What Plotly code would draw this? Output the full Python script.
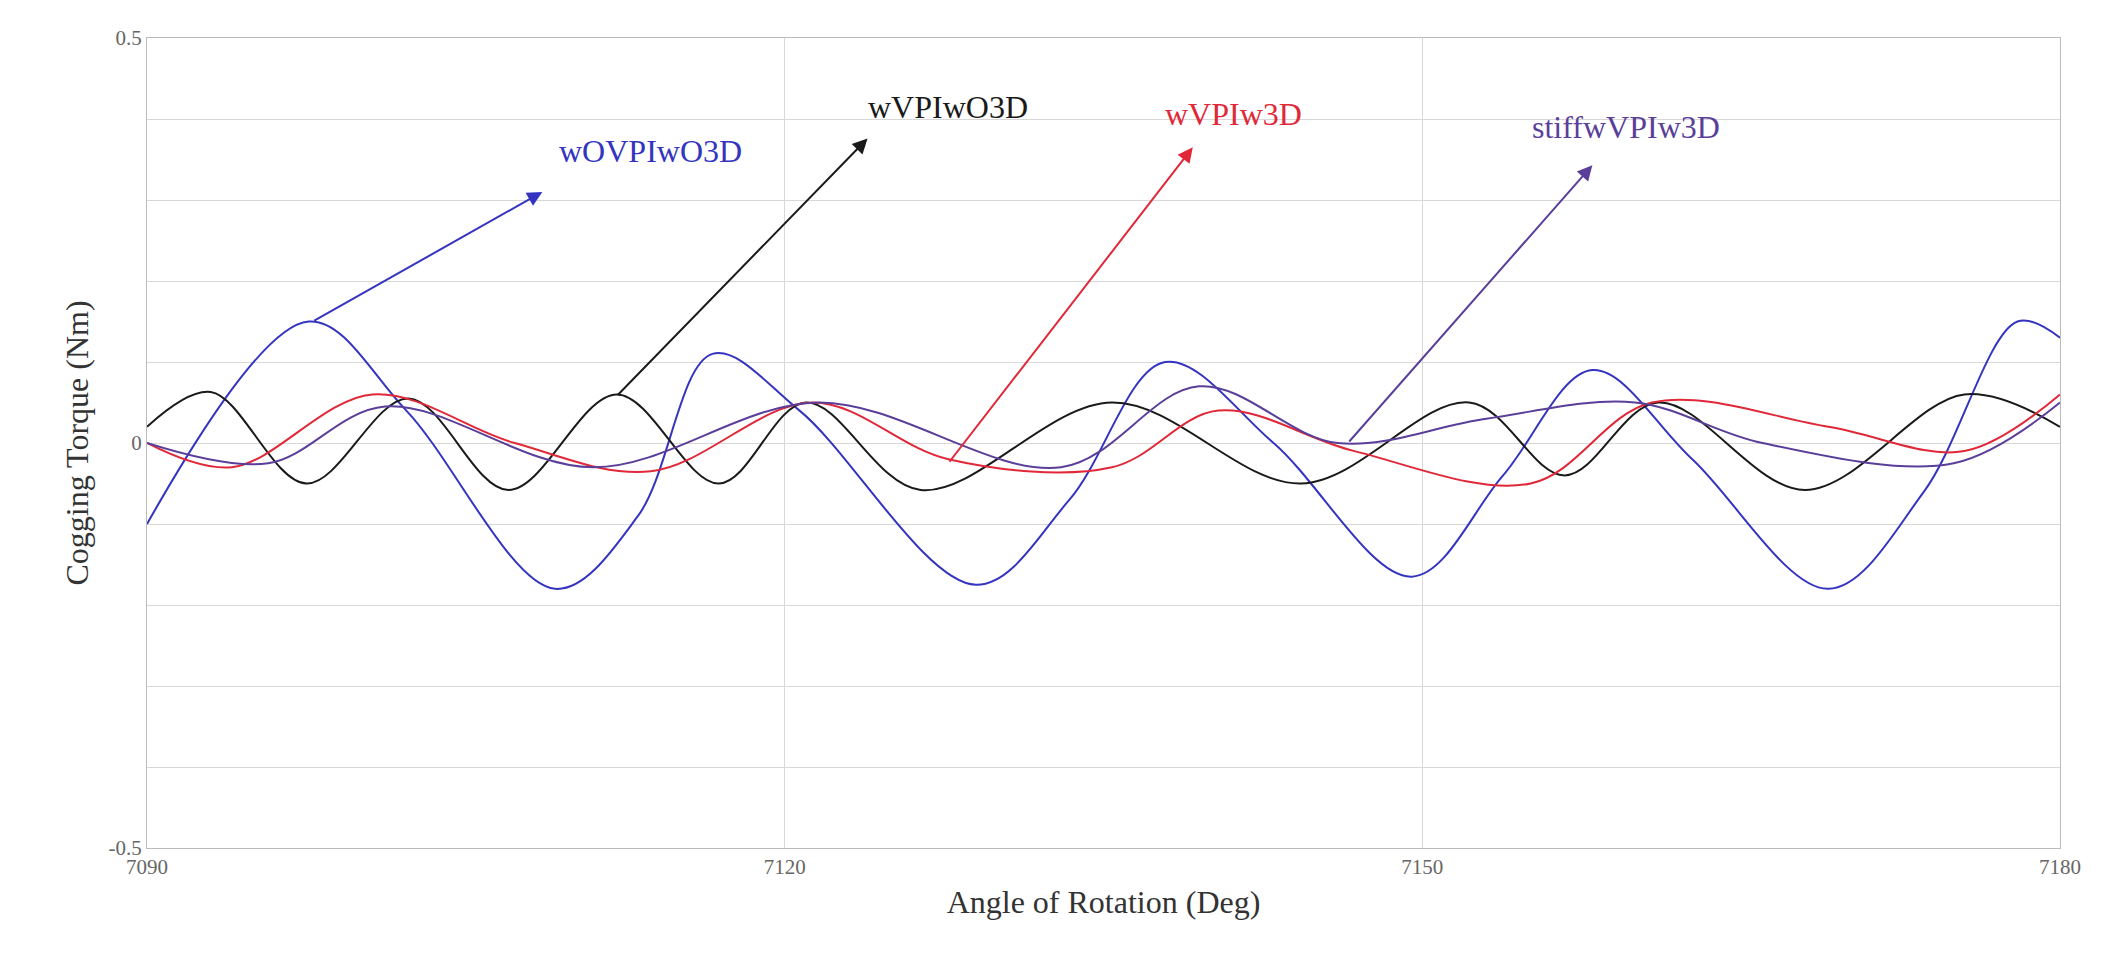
import plotly.graph_objects as go

blue_x = [7090, 7097.6, 7102.2, 7109.2, 7113.1, 7116.6, 7120.7, 7129.0, 7133.4, 7137.9, 7143.0, 7149.5, 7153.8, 7158.0, 7162.7, 7169.1, 7173.6, 7178.0, 7180]
blue_y = [-0.10, 0.15, 0.04, -0.18, -0.09, 0.11, 0.04, -0.175, -0.07, 0.10, 0.0, -0.165, -0.04, 0.09, -0.02, -0.18, -0.06, 0.15, 0.13]

black_x = [7090, 7093, 7097.5, 7102.3, 7107, 7112.1, 7116.9, 7121, 7126.4, 7135.4, 7144.3, 7152.2, 7156.7, 7161.1, 7168, 7175.5, 7180]
black_y = [0.02, 0.063, -0.05, 0.055, -0.058, 0.06, -0.05, 0.05, -0.058, 0.05, -0.05, 0.05, -0.04, 0.05, -0.058, 0.06, 0.02]

red_x = [7090, 7094, 7100.6, 7107.3, 7113.7, 7121.3, 7127.7, 7135.4, 7140.4, 7146.8, 7155.1, 7160.8, 7169.1, 7175.5, 7180]
red_y = [0.0, -0.03, 0.06, 0.0, -0.035, 0.05, -0.02, -0.03, 0.04, -0.01, -0.05, 0.05, 0.02, -0.01, 0.06]

purple_x = [7090, 7095.7, 7101.2, 7111, 7121.6, 7133, 7139.5, 7146, 7153, 7160, 7166, 7175, 7180]
purple_y = [0.0, -0.025, 0.045, -0.03, 0.05, -0.03, 0.07, 0.0, 0.03, 0.05, 0.0, -0.025, 0.05]

labels = ["wOVPIwO3D", "wVPIwO3D", "wVPIw3D", "stiffwVPIw3D"]
colors = ["#3434c0", "#1a1a1a", "#e02838", "#5a3f9a"]
label_pos = [(7113.7, 0.36), (7127.7, 0.415), (7141.1, 0.406), (7159.6, 0.39)]
arrow_head = [(7108.6, 0.31), (7123.9, 0.376), (7139.2, 0.365), (7158.0, 0.343)]
arrow_tail = [(7097.8, 0.15), (7112.1, 0.058), (7127.7, -0.025), (7146.5, 0.0)]

fig = go.Figure()
for xs, ys, c in [(blue_x, blue_y, colors[0]), (black_x, black_y, colors[1]),
                  (red_x, red_y, colors[2]), (purple_x, purple_y, colors[3])]:
    fig.add_trace(go.Scatter(x=xs, y=ys, mode="lines", line=dict(color=c, width=2, shape="spline", smoothing=1.0), showlegend=False))

for lab, c, lp, h, t in zip(labels, colors, label_pos, arrow_head, arrow_tail):
    fig.add_annotation(x=h[0], y=h[1], ax=t[0], ay=t[1], axref="x", ayref="y", xref="x", yref="y",
                       text="", showarrow=True, arrowhead=2, arrowsize=1.5, arrowwidth=2, arrowcolor=c)
    fig.add_annotation(x=lp[0], y=lp[1], text=lab, showarrow=False,
                       font=dict(family="Liberation Serif", size=32, color=c))

fig.update_layout(
    width=2124, height=975, margin=dict(l=139, r=72, t=30, b=135),
    paper_bgcolor="white", plot_bgcolor="white",
    font=dict(family="Liberation Serif", color="#555"),
)
fig.update_xaxes(range=[7090, 7180], tickvals=[7090, 7120, 7150, 7180], ticktext=["7090", "7120", "7150", "7180"],
                 showgrid=True, gridcolor="#d8d8d8", zeroline=False, showline=True, linecolor="#bbb", mirror=True,
                 tickfont=dict(size=21, color="#666"),
                 title=dict(text="Angle of Rotation (Deg)", font=dict(size=32, color="#333"), standoff=12))
fig.update_yaxes(range=[-0.5, 0.5], tickvals=[-0.5, -0.4, -0.3, -0.2, -0.1, 0, 0.1, 0.2, 0.3, 0.4, 0.5],
                 ticktext=["-0.5", "", "", "", "", "0", "", "", "", "", "0.5"],
                 showgrid=True, gridcolor="#d8d8d8", zeroline=False, showline=True, linecolor="#bbb", mirror=True,
                 tickfont=dict(size=21, color="#666"),
                 title=dict(text="Cogging Torque (Nm)", font=dict(size=32, color="#333"), standoff=10))
fig.write_html("out.html")
